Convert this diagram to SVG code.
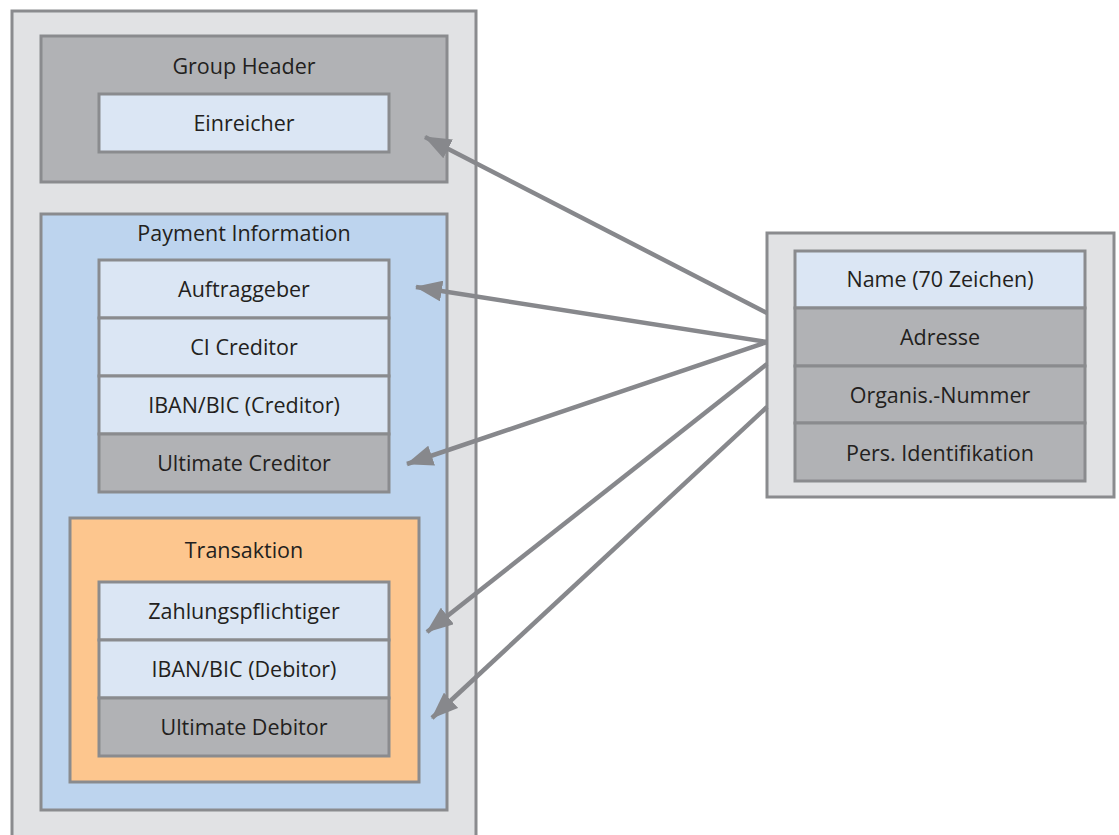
<svg xmlns="http://www.w3.org/2000/svg" width="1119" height="835" viewBox="0 0 1119 835">
<style>
.box{stroke:#8a8b8e;stroke-width:3}
.outer{fill:#e1e2e4}
.gray{fill:#b1b2b5}
.light{fill:#dbe6f4}
.blue{fill:#bdd4ee}
.orange{fill:#fdc68e}
text{font-family:"Open Sans","Noto Sans",sans-serif;font-size:21.5px;fill:#231f20;text-anchor:middle}
.conn{stroke:#87888c;stroke-width:4.5;fill:none;marker-end:url(#arr)}
</style>
<defs>
<marker id="arr" markerUnits="userSpaceOnUse" markerWidth="27" markerHeight="21" viewBox="0 0 27 21" refX="26" refY="10.5" orient="auto">
<path d="M0,0 L27,10.5 L0,21 z" fill="#87888c"/>
</marker>
</defs>
<g id="message">
<rect class="box outer" x="12" y="11" width="464" height="840"/>
</g>
<g id="group-header">
<rect class="box gray" x="41" y="36" width="406" height="146"/>
<text x="244" y="74">Group Header</text>
</g>
<g id="einreicher">
<rect class="box light" x="99" y="94" width="290" height="58"/>
<text x="244" y="131">Einreicher</text>
</g>
<g id="payment-information">
<rect class="box blue" x="41" y="214" width="406" height="596"/>
<text x="244" y="241">Payment Information</text>
</g>
<g id="auftraggeber">
<rect class="box light" x="99" y="260" width="290" height="58"/>
<text x="244" y="297">Auftraggeber</text>
</g>
<g id="ci-creditor">
<rect class="box light" x="99" y="318" width="290" height="58"/>
<text x="244" y="355">CI Creditor</text>
</g>
<g id="iban-creditor">
<rect class="box light" x="99" y="376" width="290" height="58"/>
<text x="244" y="413">IBAN/BIC (Creditor)</text>
</g>
<g id="ultimate-creditor">
<rect class="box gray" x="99" y="434" width="290" height="58"/>
<text x="244" y="471">Ultimate Creditor</text>
</g>
<g id="transaktion">
<rect class="box orange" x="70" y="518" width="349" height="264"/>
<text x="244" y="558">Transaktion</text>
</g>
<g id="zahlungspflichtiger">
<rect class="box light" x="99" y="582" width="290" height="58"/>
<text x="244" y="619">Zahlungspflichtiger</text>
</g>
<g id="iban-debitor">
<rect class="box light" x="99" y="640" width="290" height="58"/>
<text x="244" y="677">IBAN/BIC (Debitor)</text>
</g>
<g id="ultimate-debitor">
<rect class="box gray" x="99" y="698" width="290" height="58"/>
<text x="244" y="735">Ultimate Debitor</text>
</g>
<g id="party">
<rect class="box outer" x="767" y="233" width="347" height="264"/>
</g>
<g id="name">
<rect class="box light" x="795" y="251" width="290" height="57"/>
<text x="940" y="287">Name (70 Zeichen)</text>
</g>
<g id="adresse">
<rect class="box gray" x="795" y="308" width="290" height="58"/>
<text x="940" y="345">Adresse</text>
</g>
<g id="organis-nummer">
<rect class="box gray" x="795" y="366" width="290" height="57"/>
<text x="940" y="403">Organis.-Nummer</text>
</g>
<g id="pers-identifikation">
<rect class="box gray" x="795" y="423" width="290" height="58"/>
<text x="940" y="461">Pers. Identifikation</text>
</g>
<g id="connectors">
<line class="conn" x1="767" y1="313" x2="425" y2="137"/>
<line class="conn" x1="767" y1="342" x2="416" y2="287"/>
<line class="conn" x1="767" y1="342" x2="407" y2="464"/>
<line class="conn" x1="767" y1="364" x2="427" y2="632"/>
<line class="conn" x1="767" y1="407" x2="432" y2="718"/>
</g>
</svg>
